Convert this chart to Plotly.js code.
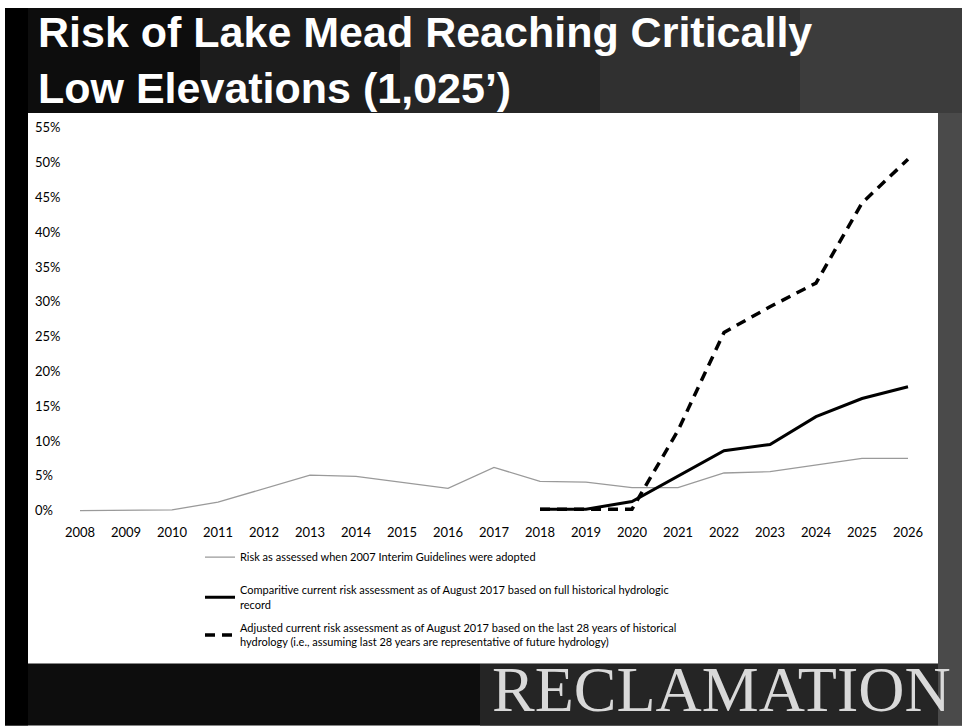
<!DOCTYPE html>
<html>
<head>
<meta charset="utf-8">
<script src="https://cdn.plot.ly/plotly-3.0.1.min.js"></script>
<style>html,body{margin:0;padding:0;background:#fff;}#chart{width:965px;height:726px;}</style>
</head>
<body>
<div id="chart"></div>
<script>
// ---- data ----
const years = [2008,2009,2010,2011,2012,2013,2014,2015,2016,2017,2018,2019,2020,2021,2022,2023,2024,2025,2026];
const risk2007 = [0,0.1,0.1,1.2,3.1,5.1,4.9,4.1,3.2,6.2,4.2,4.1,3.3,3.3,5.4,5.6,6.5,7.5,7.5];
const yearsCurrent = [2018,2019,2020,2021,2022,2023,2024,2025,2026];
const riskFullRecord = [0.2,0.2,1.3,5.0,8.6,9.5,13.5,16.1,17.8];
const riskLast28 = [0.2,0.2,0.2,11.5,25.6,29.3,32.7,44.2,50.5];
const yTickVals = [0,5,10,15,20,25,30,35,40,45,50,55];
const yTickText = ['0%','5%','10%','15%','20%','25%','30%','35%','40%','45%','50%','55%'];
const seriesNames = [
  'Risk as assessed when 2007 Interim Guidelines were adopted',
  'Comparitive current risk assessment as of August 2017 based on full historical hydrologic<br>record',
  'Adjusted current risk assessment as of August 2017 based on the last 28 years of historical<br>hydrology (i.e., assuming last 28 years are representative of future hydrology)'
];
const titleText = 'Risk of Lake Mead Reaching Critically<br>Low Elevations (1,025\u2019)';
const brandText = 'RECLAMATION';

// ---- layout geometry ----
const W = 965, H = 726;
const M = {l: 32, r: 52, t: 114, b: 204.6};
const PW = W - M.l - M.r, PH = H - M.t - M.b;
const px = x => (x - M.l) / PW;
const py = y => 1 - (y - M.t) / PH;

function rect(x0, y0, x1, y1, color) {
  return {type: 'rect', xref: 'paper', yref: 'paper', layer: 'below',
    x0: px(x0), x1: px(x1), y0: py(y1), y1: py(y0),
    fillcolor: color, line: {width: 0}};
}

const shapes = [
  rect(5, 8, 962, 726, '#0d0d0d'),
  rect(200, 8, 400, 113, '#1c1c1c'),
  rect(400, 8, 600, 113, '#262626'),
  rect(600, 8, 800, 113, '#303030'),
  rect(800, 8, 962, 113, '#3c3c3c'),
  rect(938, 113, 962, 726, '#4a4a4a'),
  rect(480, 664, 938, 726, '#252525'),
  rect(5, 8, 28, 726, '#000000'),
  rect(28, 113, 938, 664, '#ffffff')
];

const tickFont = {family: 'Lato, Carlito, Calibri, sans-serif', size: 13, color: '#000'};
const legendFont = {family: 'Lato, Carlito, Calibri, sans-serif', size: 11, color: '#000'};

const traces = [
  {x: years, y: risk2007, name: seriesNames[0], type: 'scatter', mode: 'lines',
   legend: 'legend', line: {color: '#9a9a9a', width: 1.3}},
  {x: yearsCurrent, y: riskFullRecord, name: seriesNames[1], type: 'scatter', mode: 'lines',
   legend: 'legend2', legendgroup: 'b', line: {color: '#000', width: 3}},
  {x: yearsCurrent, y: riskLast28, name: seriesNames[2], type: 'scatter', mode: 'lines',
   legend: 'legend2', legendgroup: 'c', line: {color: '#000', width: 3.5, dash: '10px,7px'}}
];

// x: 2008 -> 80 px, 2026 -> 908 px
const pxPerYear = (908 - 80) / 18;
const xStart = 2008 - (80 - M.l) / pxPerYear;
const xEnd = xStart + PW / pxPerYear;

const layout = {
  width: W, height: H,
  margin: M,
  paper_bgcolor: '#ffffff',
  plot_bgcolor: 'rgba(0,0,0,0)',
  font: legendFont,
  showlegend: true,
  legend: {x: px(200), y: py(543), xanchor: 'left', yanchor: 'top',
    bgcolor: 'rgba(0,0,0,0)', font: legendFont},
  legend2: {x: px(200), y: py(577), xanchor: 'left', yanchor: 'top',
    bgcolor: 'rgba(0,0,0,0)', font: legendFont, traceorder: 'grouped', tracegroupgap: 6},
  xaxis: {range: [xStart, xEnd], tickvals: years, ticktext: years.map(String),
    showgrid: false, zeroline: false, showline: false, ticks: '', tickfont: tickFont,
    ticklabelstandoff: 2},
  yaxis: {range: [-1.5, 57], tickvals: yTickVals, ticktext: yTickText,
    ticklabelposition: 'inside', showgrid: false, zeroline: false, showline: false,
    ticks: '', tickfont: tickFont},
  shapes: shapes,
  annotations: [
    {xref: 'paper', yref: 'paper', x: px(36), y: py(6), xanchor: 'left', yanchor: 'top',
     align: 'left', showarrow: false, text: '<b>' + titleText + '</b>',
     font: {family: 'Liberation Sans, Arial, sans-serif', size: 43, color: '#ffffff'}},
    {xref: 'paper', yref: 'paper', x: px(953), y: py(690), xanchor: 'right', yanchor: 'middle',
     showarrow: false, text: brandText,
     font: {family: 'Liberation Serif, Times New Roman, serif', size: 64, color: '#d9d9d9'}}
  ]
};

Plotly.newPlot('chart', traces, layout, {displayModeBar: false, staticPlot: true});
</script>
</body>
</html>
